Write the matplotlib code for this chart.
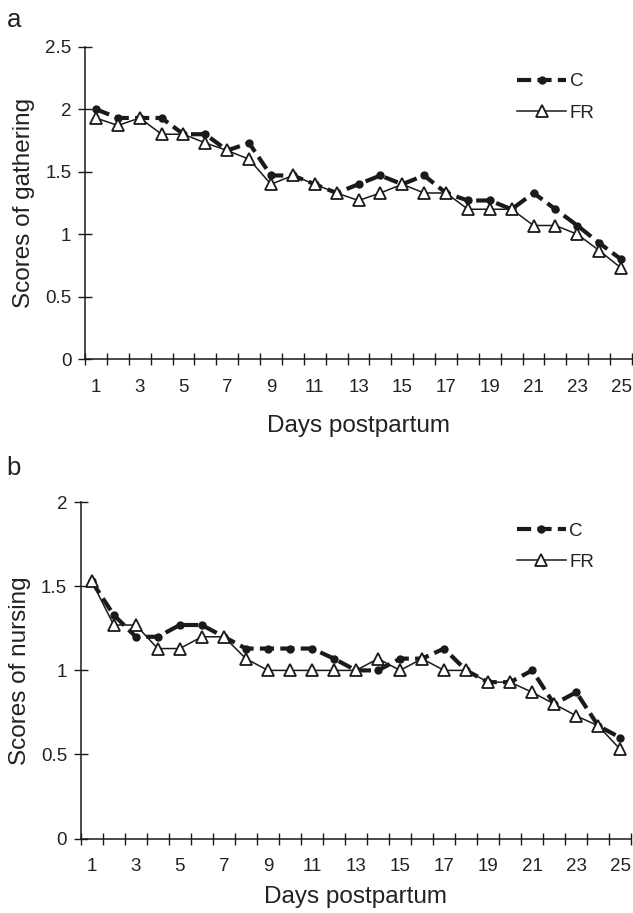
import matplotlib
matplotlib.use("Agg")
import matplotlib.pyplot as plt
import numpy as np

plt.rcParams['font.family'] = ['Liberation Sans', 'DejaVu Sans']

days = list(range(1, 26))
day_labels = [str(d) for d in range(1, 26, 2)]

gather_C = [2.0, 1.93, 1.93, 1.93, 1.8, 1.8, 1.67, 1.73, 1.47, 1.47, 1.4, 1.33, 1.4,
            1.47, 1.4, 1.47, 1.33, 1.27, 1.27, 1.2, 1.33, 1.2, 1.07, 0.93, 0.8]
gather_FR = [1.93, 1.87, 1.93, 1.8, 1.8, 1.73, 1.67, 1.6, 1.4, 1.47, 1.4, 1.33, 1.27,
             1.33, 1.4, 1.33, 1.33, 1.2, 1.2, 1.2, 1.07, 1.07, 1.0, 0.87, 0.73]

nurse_C = [1.53, 1.33, 1.2, 1.2, 1.27, 1.27, 1.2, 1.13, 1.13, 1.13, 1.13, 1.07, 1.0,
           1.0, 1.07, 1.07, 1.13, 1.0, 0.93, 0.93, 1.0, 0.8, 0.87, 0.67, 0.6]
nurse_FR = [1.53, 1.27, 1.27, 1.13, 1.13, 1.2, 1.2, 1.07, 1.0, 1.0, 1.0, 1.0, 1.0,
            1.07, 1.0, 1.07, 1.0, 1.0, 0.93, 0.93, 0.87, 0.8, 0.73, 0.67, 0.53]

gather_yticks = [0, 0.5, 1, 1.5, 2, 2.5]
gather_yticklabels = ['0', '0.5', '1', '1.5', '2', '2.5']
nurse_yticks = [0, 0.5, 1, 1.5, 2]
nurse_yticklabels = ['0', '0.5', '1', '1.5', '2']

W, H = 633, 913
fig = plt.figure(figsize=(W / 100, H / 100), dpi=100)

ink = '#1a1a1a'
txt = '#222222'
fs_tick = 13.5
fs_label = 17.5
fs_leg = 13.5


def px_axes(left, right, bottom, top):
    return fig.add_axes([left / W, 1 - bottom / H, (right - left) / W, (bottom - top) / H])


def draw_panel(ax, c_vals, fr_vals, ymax, yticks, yticklabels, ylabel, legend_xy, xlabelpad):
    ax.plot(days, c_vals, color=ink, lw=3.0, linestyle=(0, (3.4, 1.5)),
            marker='o', markersize=5, markerfacecolor=ink, markeredgecolor=ink,
            label='C', zorder=3)
    ax.plot(days, fr_vals, color=ink, lw=1.1, linestyle='-',
            marker='^', markersize=8, markerfacecolor='white', markeredgecolor=ink,
            markeredgewidth=1.3, label='FR', zorder=4, clip_on=False)
    ax.set_xlim(0.5, 25.5)
    ax.set_ylim(0, ymax)
    for s in ['top', 'right']:
        ax.spines[s].set_visible(False)
    for s in ['left', 'bottom']:
        ax.spines[s].set_color(ink)
        ax.spines[s].set_linewidth(1.1)
    ax.set_xticks(np.arange(0.5, 26, 1.0))
    ax.set_xticklabels([])
    ax.set_xticks(list(range(1, 26, 2)), minor=True)
    ax.set_xticklabels(day_labels, minor=True)
    ax.tick_params(axis='x', which='major', direction='inout', length=8.5, width=1.0, color=ink)
    ax.tick_params(axis='x', which='minor', length=0, pad=14, labelsize=fs_tick, labelcolor=txt)
    ax.set_yticks(yticks)
    ax.set_yticklabels(yticklabels)
    ax.tick_params(axis='y', direction='inout', length=9.5, width=1.0, color=ink,
                   pad=5, labelsize=fs_tick, labelcolor=txt)
    ax.set_xlabel('Days postpartum', fontsize=fs_label, color=txt, labelpad=xlabelpad)
    ax.set_ylabel(ylabel, fontsize=fs_label, color=txt, labelpad=7)
    ax.legend(loc='upper left', bbox_to_anchor=legend_xy, frameon=False, fontsize=fs_leg,
              handlelength=2.6, handletextpad=0.2, labelspacing=0.75, borderpad=0,
              borderaxespad=0, labelcolor=txt)


ax1 = px_axes(85, 632, 359.3, 46.7)
draw_panel(ax1, gather_C, gather_FR, 2.5, gather_yticks, gather_yticklabels,
           'Scores of gathering', (0.79, 0.915), 14)

ax2 = px_axes(80.7, 631.3, 838.5, 502.3)
draw_panel(ax2, nurse_C, nurse_FR, 2.0, nurse_yticks, nurse_yticklabels,
           'Scores of nursing', (0.792, 0.94), 8)

fig.text(14 / W, 1 - 20 / H, 'a', fontsize=18.5, color=txt, ha='center', va='center')
fig.text(14 / W, 1 - 468 / H, 'b', fontsize=18.5, color=txt, ha='center', va='center')

fig.savefig('out.png', dpi=100, facecolor='white')
